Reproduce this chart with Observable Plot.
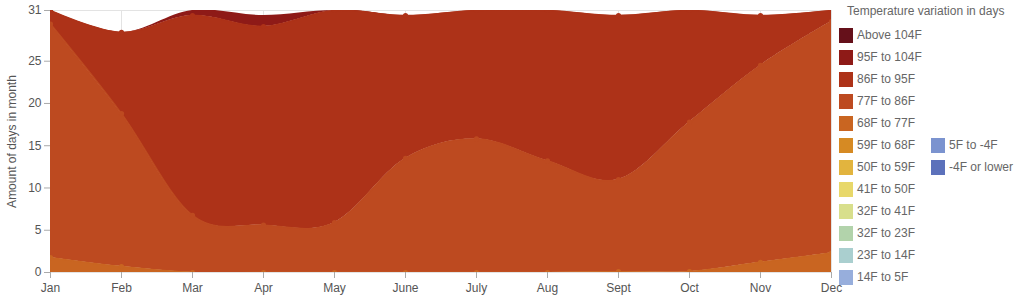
<!DOCTYPE html>
<html>
<head>
<meta charset="utf-8">
<script src="https://cdn.jsdelivr.net/npm/d3@7"></script>
<script src="https://cdn.jsdelivr.net/npm/@observablehq/plot@0.6"></script>
<style>
  html, body { margin: 0; padding: 0; background: #fff; }
  #wrap { position: relative; width: 1024px; height: 300px; font-family: "Liberation Sans", Arial, sans-serif; }
  #chart { position: absolute; left: 0; top: 0; }
  #legend { position: absolute; left: 0; top: 0; }
  .legend-title { position: absolute; left: 847px; top: 4px; font-size: 12px; color: #666; white-space: nowrap; }
  .item { position: absolute; height: 16px; font-size: 12px; color: #666; white-space: nowrap; }
  .sw { position: absolute; left: 0; top: 0; width: 14px; height: 15px; }
  .lbl { position: absolute; left: 18px; top: 0; line-height: 15px; }
</style>
</head>
<body>
<div id="wrap">
  <div id="chart"></div>
  <div id="legend"></div>
</div>
<script>
const months = ["Jan", "Feb", "Mar", "Apr", "May", "June", "July", "Aug", "Sept", "Oct", "Nov", "Dec"];

// days per month in each temperature band (stack bottom to top)
const t68to77  = [1.75, 0.7, 0, 0, 0, 0, 0, 0, 0.1, 0.1, 1.2, 2.3];
const t77to86  = [27.65, 18.1, 6.75, 5.6, 5.9, 13.5, 15.8, 13.2, 10.9, 17.7, 23.3, 27.4];
const t86to95  = [1.6, 9.6, 23.65, 23.5, 25.1, 16.9, 15.2, 17.8, 19.4, 13.2, 5.9, 1.3];
const t95to104 = [0, 0, 0.6, 1.3, 0, 0, 0, 0, 0, 0, 0, 0];

const yTicks = [0, 5, 10, 15, 20, 25, 31];

const legendLabels = ["Above 104F", "95F to 104F", "86F to 95F", "77F to 86F", "68F to 77F", "59F to 68F",
  "50F to 59F", "41F to 50F", "32F to 41F", "32F to 23F", "23F to 14F", "14F to 5F", "5F to -4F", "-4F or lower"];
const legendColors = ["#65101a", "#8e1a17", "#ad3218", "#bd4a20", "#c96521", "#d68a23",
  "#e2b43e", "#e8d86a", "#d8df8c", "#b2d3ab", "#aacfcf", "#97aedc", "#7b93cf", "#5c71bb"];

const layerNames = ["68F to 77F", "77F to 86F", "86F to 95F", "95F to 104F"];
const layerValues = [t68to77, t77to86, t86to95, t95to104];
const markedLayers = ["68F to 77F", "77F to 86F", "86F to 95F"];

const data = layerNames.flatMap((name, j) =>
  months.map((m, i) => ({month: m, series: name, value: layerValues[j][i]})));

const colorOf = name => legendColors[legendLabels.indexOf(name)];

const chart = Plot.plot({
  width: 860,
  height: 300,
  marginLeft: 50,
  marginRight: 29,
  marginTop: 10,
  marginBottom: 28,
  style: {fontFamily: '"Liberation Sans", Arial, sans-serif', fontSize: "12px", background: "transparent"},
  x: {type: "point", domain: months, padding: 0},
  y: {domain: [0, 31]},
  color: {domain: layerNames, range: layerNames.map(colorOf)},
  marks: [
    Plot.ruleX(months, {x: d => d, stroke: "#e3e3e3"}),
    Plot.ruleY(yTicks, {y: d => d, stroke: "#e3e3e3"}),
    Plot.areaY(data, {x: "month", y: "value", z: "series", fill: "series", order: layerNames, curve: "cardinal", clip: true}),
    Plot.lineY(data, Plot.stackY2({x: "month", y: "value", z: "series", order: layerNames, stroke: "series",
      strokeOpacity: d => markedLayers.includes(d.series) ? 1 : 0, strokeWidth: 1.5, curve: "cardinal", clip: true})),
    Plot.dot(data, Plot.stackY2({x: "month", y: "value", z: "series", order: layerNames, fill: "series",
      fillOpacity: d => markedLayers.includes(d.series) ? 1 : 0, r: 2.6, clip: true})),
    Plot.axisY({ticks: yTicks, tickSize: 6, tickPadding: 3, label: null, stroke: "#aaa", fill: "#555"}),
    Plot.axisX({tickSize: 6, tickPadding: 5, label: null, stroke: "#aaa", fill: "#555"}),
    Plot.text(["Amount of days in month"], {frameAnchor: "left", textAnchor: "middle", lineAnchor: "middle",
      rotate: -90, dx: -38, fill: "#555", fontSize: 12})
  ]
});
document.getElementById("chart").appendChild(chart);

// legend
const legend = document.getElementById("legend");
const title = document.createElement("div");
title.className = "legend-title";
title.textContent = "Temperature variation in days";
legend.appendChild(title);
legendLabels.forEach((label, i) => {
  const col = i < 12 ? 0 : 1;
  const row = i < 12 ? i : i - 12 + 5;
  const item = document.createElement("div");
  item.className = "item";
  item.style.left = (col ? 931 : 839) + "px";
  item.style.top = (28 + row * 22) + "px";
  const sw = document.createElement("div");
  sw.className = "sw";
  sw.style.background = legendColors[i];
  const lb = document.createElement("div");
  lb.className = "lbl";
  lb.textContent = label;
  item.appendChild(sw);
  item.appendChild(lb);
  legend.appendChild(item);
});
</script>
</body>
</html>
